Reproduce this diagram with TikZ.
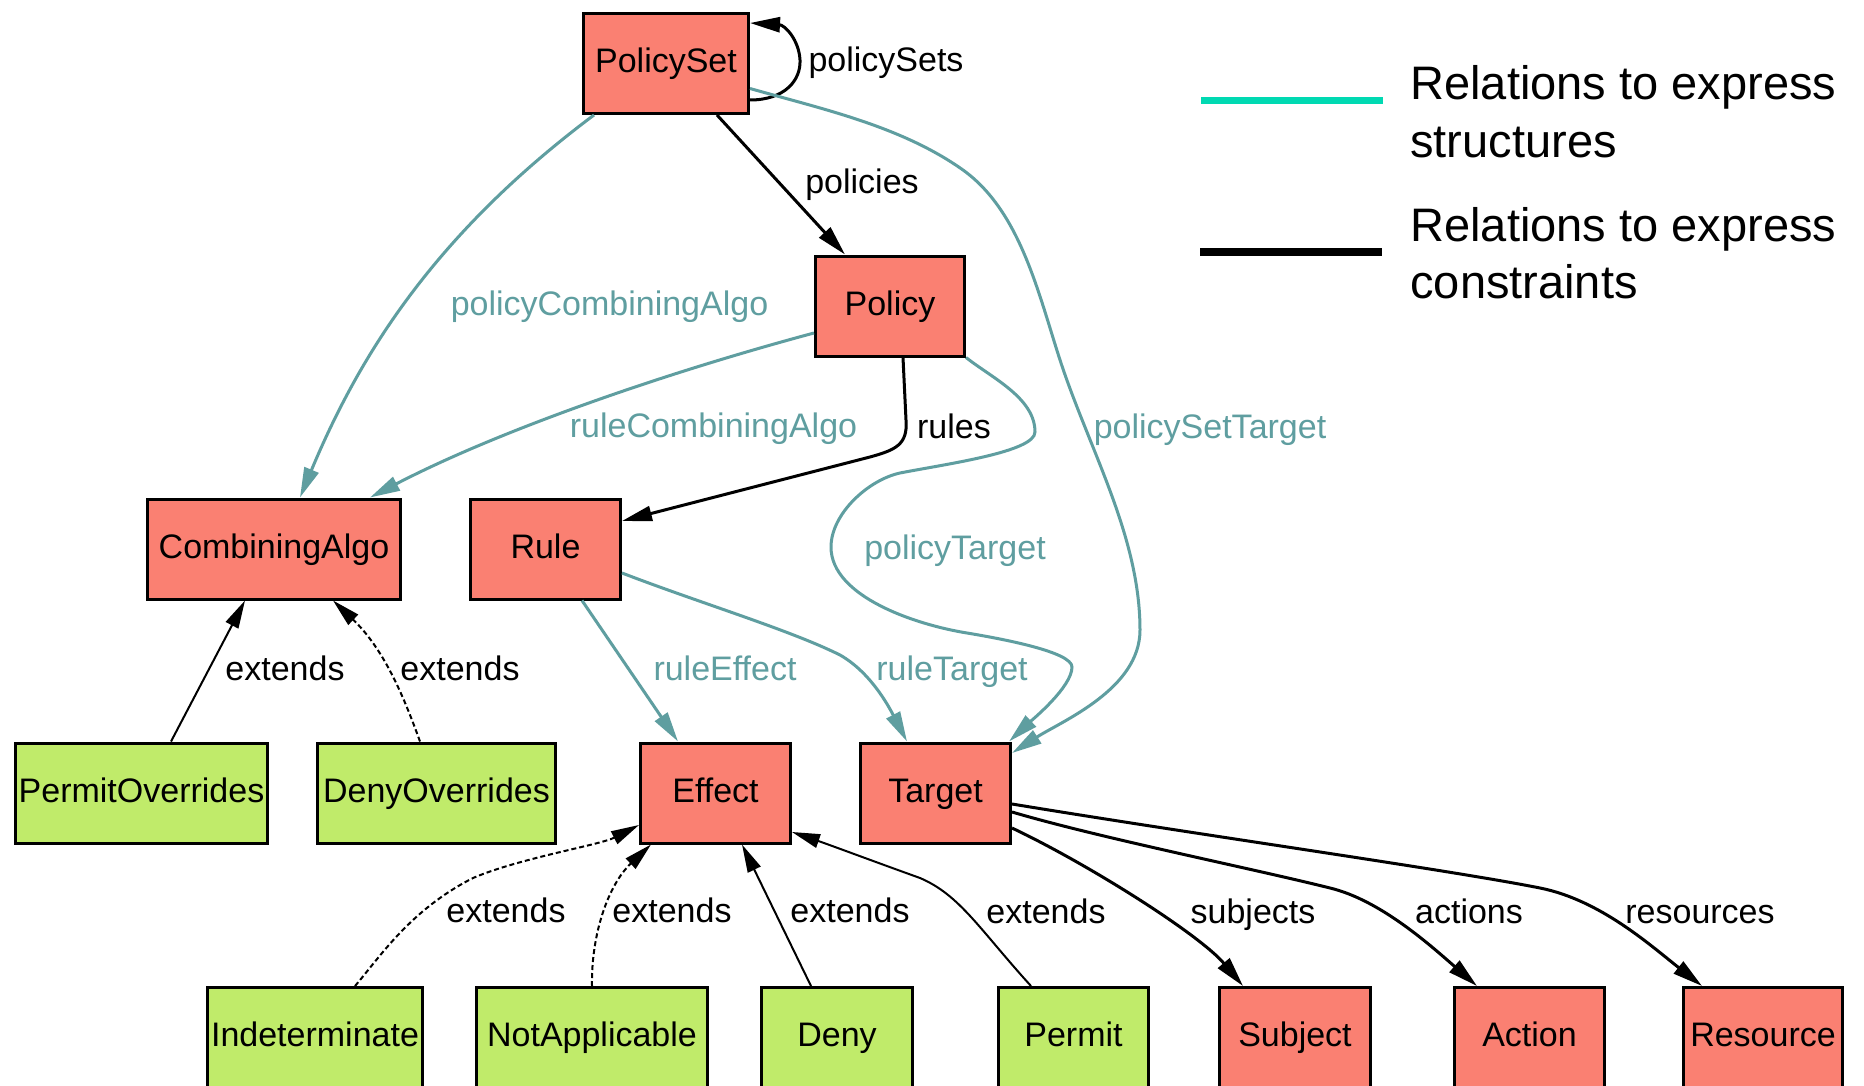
\documentclass[tikz,border=0pt]{standalone}
\usepackage{fontspec}
\setmainfont{Liberation Sans}
\usetikzlibrary{arrows.meta,calc}
\definecolor{salmonfill}{HTML}{FA8072}
\definecolor{greenfill}{HTML}{C0EB6A}
\definecolor{edgeteal}{HTML}{5F9EA0}
\definecolor{legteal}{HTML}{00D9B2}
\newcommand\nodefnt{\fontsize{17}{20}\selectfont}
\newcommand\legfnt{\fontsize{23.5}{28}\selectfont}
\begin{document}
\begin{tikzpicture}[x=0.5pt,y=-0.5pt,
  nbox/.style={draw=black, line width=1.5pt, rectangle, inner sep=0pt, minimum height=50pt, text height=12pt, text depth=3pt, font=\nodefnt},
  rbox/.style={nbox, fill=salmonfill},
  gbox/.style={nbox, fill=greenfill},
  lbl/.style={anchor=base, inner sep=0pt, font=\nodefnt},
  tlbl/.style={lbl, text=edgeteal},
  leg/.style={anchor=base west, inner sep=0pt, font=\legfnt},
  blk/.style={draw=black, line width=1.5pt, -{Triangle[length=15pt,width=7.5pt]}},
  tel/.style={draw=edgeteal, line width=1.5pt, -{Triangle[length=15pt,width=7.5pt]}},
  ext/.style={draw=black, line width=1pt, -{Triangle[length=14pt,width=7pt]}},
  extd/.style={ext, dash pattern=on 2.5pt off 1.5pt},
]
\fill[white] (0,0) rectangle (1864,1086);
\useasboundingbox (0,0) rectangle (1864,1086);

% nodes
\node[rbox, minimum width=82.5pt] (ps) at (666,63.5) {PolicySet};
\node[rbox, minimum width=74.5pt] (pol) at (890,306) {Policy};
\node[rbox, minimum width=126.5pt] (ca) at (274,549) {CombiningAlgo};
\node[rbox, minimum width=75pt] (rule) at (545.5,549) {Rule};
\node[gbox, minimum width=126pt] (po) at (141.5,793) {PermitOverrides};
\node[gbox, minimum width=119pt] (do) at (436.5,793) {DenyOverrides};
\node[rbox, minimum width=75pt] (eff) at (715.5,793) {Effect};
\node[rbox, minimum width=75pt] (tgt) at (935.5,793) {Target};
\node[gbox, minimum width=107.5pt] (ind) at (315,1037.5) {Indeterminate};
\node[gbox, minimum width=115.5pt] (na) at (592,1037.5) {NotApplicable};
\node[gbox, minimum width=75.5pt] (deny) at (837,1037.5) {Deny};
\node[gbox, minimum width=75pt] (permit) at (1073.5,1037.5) {Permit};
\node[rbox, minimum width=75.5pt] (subj) at (1295,1037.5) {Subject};
\node[rbox, minimum width=75pt] (act) at (1529.5,1037.5) {Action};
\node[rbox, minimum width=79.5pt] (res) at (1763,1037.5) {Resource};

% policySets self loop
\draw[blk] ($(ps.south east)+(0,-15)$) .. controls (785,100) and (801,80) .. (800,60) .. controls (799,40) and (785,25) .. ($(ps.north east)+(0,11)$);
\node[lbl] (lpss) at (886,72) {policySets};

% policies
\draw[blk] ($(ps.south)+(51,0)$) -- ($(pol.north)+(-45,0)$);
\node[lbl] (lpol) at (862,193) {policies};

% policyCombiningAlgo
\draw[tel] ($(ps.south west)+(12,0)$) .. controls (435,234) and (360,354) .. ($(ca.north)+(26,0)$);
\node[tlbl] (lpca) at (609.5,315) {policyCombiningAlgo};

% ruleCombiningAlgo
\draw[tel] ($(pol.west)+(0,27)$) .. controls (665,373) and (500,430) .. ($(ca.north)+(96,0)$);
\node[tlbl] (lrca) at (713.5,437) {ruleCombiningAlgo};

% rules
\draw[blk] ($(pol.south)+(13,0)$) -- (906,420) .. controls (908,445) and (895,450) .. (870,457) -- ($(rule.east)+(0,-28)$);
\node[lbl] (lrules) at (954,438) {rules};

% policyTarget
\draw[tel] (pol.south east) .. controls (992,378) and (1035,398) .. (1035,432) .. controls (1035,452) and (946,464) .. (900,473) .. controls (868,480) and (831,514) .. (831,547) .. controls (831,597) and (917,625) .. (967,633) .. controls (1003,639) and (1072,652) .. (1072,667) .. controls (1072,687) and (1032,720) .. ($(tgt.north east)+(-3,0)$);
\node[tlbl] (lpt) at (955,559) {policyTarget};

% policySetTarget
\draw[tel] ($(ps.east)+(0,25)$) .. controls (822,109) and (901,126) .. (963,170) .. controls (1020,211) and (1038,292) .. (1060,360) .. controls (1089,449) and (1140,536) .. (1140,630) .. controls (1140,689) and (1062,721) .. ($(tgt.east)+(0,-40)$);
\node[tlbl] (lpst) at (1210,438) {policySetTarget};

% ruleEffect
\draw[tel] ($(rule.south)+(36.5,0)$) -- ($(eff.north)+(-37.5,0)$);
\node[tlbl] (lre) at (725,680) {ruleEffect};

% ruleTarget
\draw[tel] ($(rule.east)+(0,24)$) .. controls (700,603) and (790,630) .. (840,655) .. controls (870,672) and (888,705) .. ($(tgt.north)+(-28.5,0)$);
\node[tlbl] (lrt) at (952,680) {ruleTarget};

% extends
\draw[ext] ($(po.north)+(29.5,0)$) -- ($(ca.south)+(-29,0)$);
\node[lbl] (le1) at (285,680) {extends};
\draw[extd] ($(do.north)+(-16.5,0)$) .. controls (405,700) and (385,650) .. ($(ca.south)+(59,0)$);
\node[lbl] (le2) at (460,680) {extends};
\draw[extd] ($(ind.north)+(40,0)$) .. controls (380,957) and (410,910) .. (473,878) .. controls (520,858) and (600,845) .. ($(eff.west)+(0,32)$);
\node[lbl] (le3) at (506,922) {extends};
\draw[extd] (na.north) .. controls (591,935) and (608,885) .. ($(eff.south west)+(12,0)$);
\node[lbl] (le4) at (672,922) {extends};
\draw[ext] ($(deny.north)+(-26,0)$) -- ($(eff.south)+(26.5,0)$);
\node[lbl] (le5) at (850,922) {extends};
\draw[ext] ($(permit.north)+(-42.5,0)$) .. controls (980,930) and (960,895) .. (920,878) .. controls (870,860) and (830,845) .. ($(eff.east)+(0,39)$);
\node[lbl] (le6) at (1046,923) {extends};

% Target relations
\draw[blk] ($(tgt.east)+(0,35)$) .. controls (1090,865) and (1200,935) .. ($(subj.north)+(-52,0)$);
\node[lbl] (lsub) at (1253,923) {subjects};
\draw[blk] ($(tgt.east)+(0,19)$) .. controls (1100,838) and (1250,868) .. (1330,888) .. controls (1380,900) and (1430,945) .. ($(act.north)+(-52.5,0)$);
\node[lbl] (lact) at (1469,923) {actions};
\draw[blk] ($(tgt.east)+(0,11)$) .. controls (1200,835) and (1450,870) .. (1540,888) .. controls (1600,900) and (1650,945) .. ($(res.north)+(-61,0)$);
\node[lbl] (lres) at (1700,923) {resources};

% legend
\coordinate (lga) at (1201,100.5);
\coordinate (lgb) at (1383,100.5);
\draw[draw=legteal, line width=3.5pt] (lga) -- (lgb);
\coordinate (lgc) at (1200,252);
\coordinate (lgd) at (1382,252);
\draw[draw=black, line width=3.8pt] (lgc) -- (lgd);
\node[leg] (lt1) at (1410,100) {Relations to express};
\node[leg] (lt2) at (1410,157) {structures};
\node[leg] (lt3) at (1410,242) {Relations to express};
\node[leg] (lt4) at (1410,298) {constraints};
\end{tikzpicture}
\end{document}
